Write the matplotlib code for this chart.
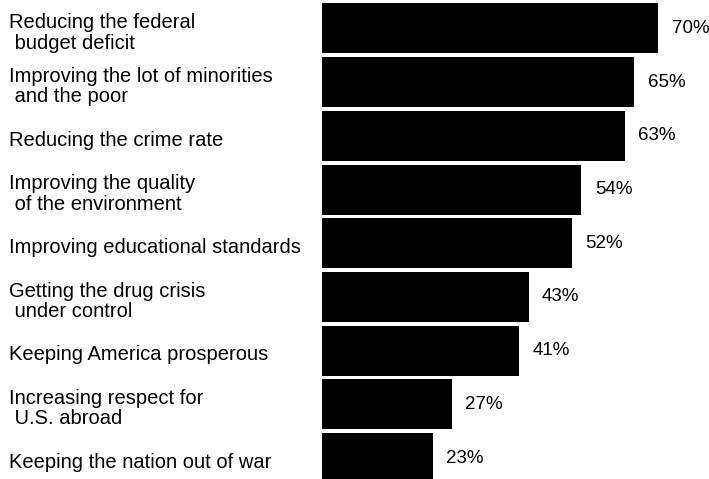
import numpy as np
import matplotlib.pyplot as plt
import matplotlib.transforms as mtransforms

labels = [
    "Reducing the federal\n budget deficit",
    "Improving the lot of minorities\n and the poor",
    "Reducing the crime rate",
    "Improving the quality\n of the environment",
    "Improving educational standards",
    "Getting the drug crisis\n under control",
    "Keeping America prosperous",
    "Increasing respect for\n U.S. abroad",
    "Keeping the nation out of war",
]
values = [70, 65, 63, 54, 52, 43, 41, 27, 23]

plt.rcParams["font.family"] = ["Liberation Sans", "DejaVu Sans"]

fig = plt.figure(figsize=(7.09, 4.79), dpi=100)
ax = fig.add_axes([0, 0, 1, 1])

y = np.arange(len(values))
ax.barh(y, values, height=0.93, color="black")

ax.set_xlim(-67.1, 80.6)
ax.set_ylim(8.39, -0.53)
ax.axis("off")

trans = mtransforms.blended_transform_factory(ax.transAxes, ax.transData)
for yi, lab in zip(y, labels):
    ax.text(0.013, yi + 0.08, lab, transform=trans, ha="left", va="center",
            fontsize=14.5, linespacing=1.1)

for yi, v in zip(y, values):
    ax.text(v + 2.8, yi, f"{v}%", ha="left", va="center", fontsize=13.5)

fig.savefig("out.png", dpi=100)
